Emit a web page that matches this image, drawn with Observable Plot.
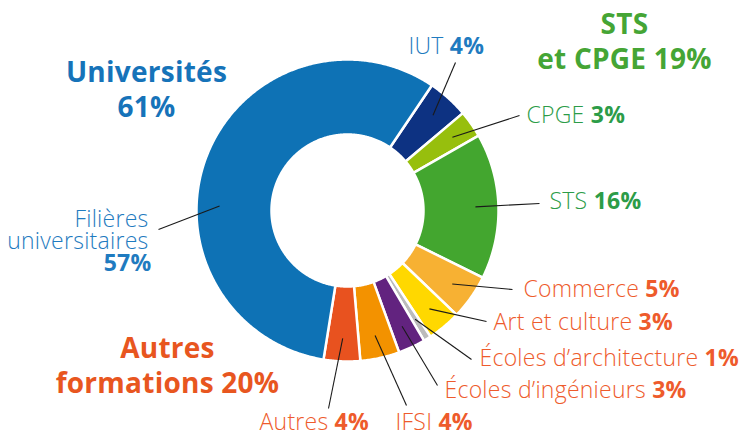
<!DOCTYPE html>
<html><head><meta charset="utf-8">
<script src="https://cdn.jsdelivr.net/npm/d3@7"></script>
<script src="https://cdn.jsdelivr.net/npm/@observablehq/plot@0.6"></script>
<style>body{margin:0;background:#fff}#chart{width:739px;height:434px}</style>
</head><body><div id="chart"></div>
<script>
// ---- Data (clockwise from the IUT slice) ----
const names = ["IUT", "CPGE", "STS", "Commerce", "Art et culture", "Écoles d’architecture", "Écoles d’ingénieurs", "IFSI", "Autres", "Filières universitaires"];
const shares = [4.4, 2.9, 15.6, 4.8, 3.6, 0.8, 2.9, 4.2, 3.9, 56.9];
const pctLabels = ["4%", "3%", "16%", "5%", "3%", "1%", "3%", "4%", "4%", "57%"];
const groups = ["univ", "sts", "sts", "autres", "autres", "autres", "autres", "autres", "autres", "univ"];
const groupTitleLine1 = ["Universités", "STS", "Autres"];
const groupTitleLine2 = ["61%", "et CPGE 19%", "formations 20%"];
const groupKeys = ["univ", "sts", "autres"];

// ---- Styles ----
const sliceColors = ["#0d3282", "#97bf0d", "#43a62f", "#f7b133", "#ffd800", "#bbbbbb", "#62237f", "#f39200", "#e8521f", "#0e72b5"];
const titleColor = {univ: "#1673b9", sts: "#45a535", autres: "#e8561f"};
const labelColor = {univ: "#1f7bc0", sts: "#2c9c48", autres: "#ee5b2c"};
const FONT = "'Open Sans', sans-serif";
const LETTER_SPACING = 0.25;

// ---- Layout ----
const W = 739, H = 434, CX = 347, CY = 210, R_OUT = 151, R_IN = 76, R_LEAD = 128, START = 34;
const labelLayout = [
  {x: 408, y: 53, lx: 455, ly: 62},
  {x: 526, y: 122, lx: 519, ly: 115},
  {x: 549, y: 208, lx: 539, ly: 203},
  {x: 523, y: 296, lx: 512, ly: 289},
  {x: 493, y: 329, lx: 486, ly: 321},
  {x: 479, y: 365, lx: 471, ly: 359},
  {x: 444, y: 397, lx: 437, ly: 385},
  {x: 395, y: 429, lx: 406, ly: 405},
  {x: 259, y: 429, lx: 328, ly: 408},
  {x: 148, y: 226, lx: 158, ly: 229, angle: 272, stacked: true}
];
const titleLayout = [
  {x: 146, y1: 81, y2: 116},
  {x: 624, y1: 33, y2: 68},
  {x: 167, y1: 357, y2: 392}
];
const LABEL_SIZE = 23, TITLE_SIZE = 28, STACK_GAP = 22;

// ---- Build slices ----
const total = d3.sum(shares);
const rad = a => a * Math.PI / 180;
const px = (a, r) => CX + r * Math.sin(rad(a));
const py = (a, r) => CY - r * Math.cos(rad(a));
let cum = 0;
const slices = names.map((name, i) => {
  const a0 = START + cum / total * 360;
  cum += shares[i];
  const a1 = START + cum / total * 360;
  return {name, i, a0, a1, mid: (a0 + a1) / 2};
});
const polyPts = [];
for (const s of slices) {
  const n = Math.max(4, Math.ceil((s.a1 - s.a0) * 2));
  for (let k = 0; k <= n; k++) { const a = s.a0 + (s.a1 - s.a0) * k / n; polyPts.push({name: s.name, color: sliceColors[s.i], x: px(a, R_OUT), y: py(a, R_OUT)}); }
  for (let k = n; k >= 0; k--) { const a = s.a0 + (s.a1 - s.a0) * k / n; polyPts.push({name: s.name, color: sliceColors[s.i], x: px(a, R_IN), y: py(a, R_IN)}); }
}

// ---- Leaders & labels ----
const leaders = slices.map(s => {
  const L = labelLayout[s.i];
  const a = L.angle ?? s.mid;
  return {x1: px(a, R_LEAD), y1: py(a, R_LEAD), x2: L.lx, y2: L.ly};
});
const ctx = document.createElement("canvas").getContext("2d");
function textWidth(t, weight, size) {
  ctx.font = `${weight} ${size}px 'Open Sans'`;
  return ctx.measureText(t).width + LETTER_SPACING * [...t].length;
}

const nameRows = [], pctRows = [];
slices.forEach(s => {
  const L = labelLayout[s.i];
  const col = labelColor[groups[s.i]];
  if (L.stacked) {
    // two-line name in a single text element (last line baseline at y)
    nameRows.push({x: L.x, y: L.y + STACK_GAP, text: s.name.replace(" ", "\n"), color: col, anchor: "end"});
    pctRows.push({x: L.x + 3, y: L.y + 2 * STACK_GAP, text: pctLabels[s.i], color: col, anchor: "end"});
  } else {
    nameRows.push({x: L.x, y: L.y, text: s.name, color: col, anchor: "start"});
    pctRows.push({x: L.x + textWidth(s.name + " ", 300, LABEL_SIZE), y: L.y, text: pctLabels[s.i], color: col, anchor: "start"});
  }
});
const titleRows = [];
groupKeys.forEach((g, j) => {
  titleRows.push({x: titleLayout[j].x, y: titleLayout[j].y1, text: groupTitleLine1[j], color: titleColor[g]});
  titleRows.push({x: titleLayout[j].x, y: titleLayout[j].y2, text: groupTitleLine2[j], color: titleColor[g]});
});

const chart = Plot.plot({
  width: W, height: H,
  margin: 0,
  x: {domain: [0, W], range: [0, W], axis: null},
  y: {domain: [0, H], range: [0, H], axis: null},
  color: {type: "identity"},
  style: {fontFamily: FONT, background: "#fff", letterSpacing: LETTER_SPACING + "px"},
  marks: [
    Plot.line(polyPts, {x: "x", y: "y", z: "name", fill: "color", stroke: "#fff", strokeWidth: 2.5, curve: "linear-closed"}),
    Plot.link(leaders, {x1: "x1", y1: "y1", x2: "x2", y2: "y2", stroke: "#1a1a1a", strokeWidth: 1.1}),
    Plot.text(nameRows.filter(d => d.anchor === "start"), {x: "x", y: "y", text: "text", fill: "color", textAnchor: "start", lineAnchor: "bottom", fontSize: LABEL_SIZE, fontWeight: 300, fontFamily: FONT}),
    Plot.text(nameRows.filter(d => d.anchor === "end"), {x: "x", y: "y", text: "text", fill: "color", textAnchor: "end", lineAnchor: "bottom", lineHeight: STACK_GAP / LABEL_SIZE, fontSize: LABEL_SIZE, fontWeight: 300, fontFamily: FONT}),
    Plot.text(pctRows.filter(d => d.anchor === "start"), {x: "x", y: "y", text: "text", fill: "color", textAnchor: "start", lineAnchor: "bottom", fontSize: LABEL_SIZE, fontWeight: 700, fontFamily: FONT}),
    Plot.text(pctRows.filter(d => d.anchor === "end"), {x: "x", y: "y", text: "text", fill: "color", textAnchor: "end", lineAnchor: "bottom", fontSize: LABEL_SIZE, fontWeight: 700, fontFamily: FONT}),
    Plot.text(titleRows, {x: "x", y: "y", text: "text", fill: "color", textAnchor: "middle", lineAnchor: "bottom", fontSize: TITLE_SIZE, fontWeight: 700, fontFamily: FONT})
  ]
});
document.getElementById("chart").append(chart);
</script>
</body></html>
